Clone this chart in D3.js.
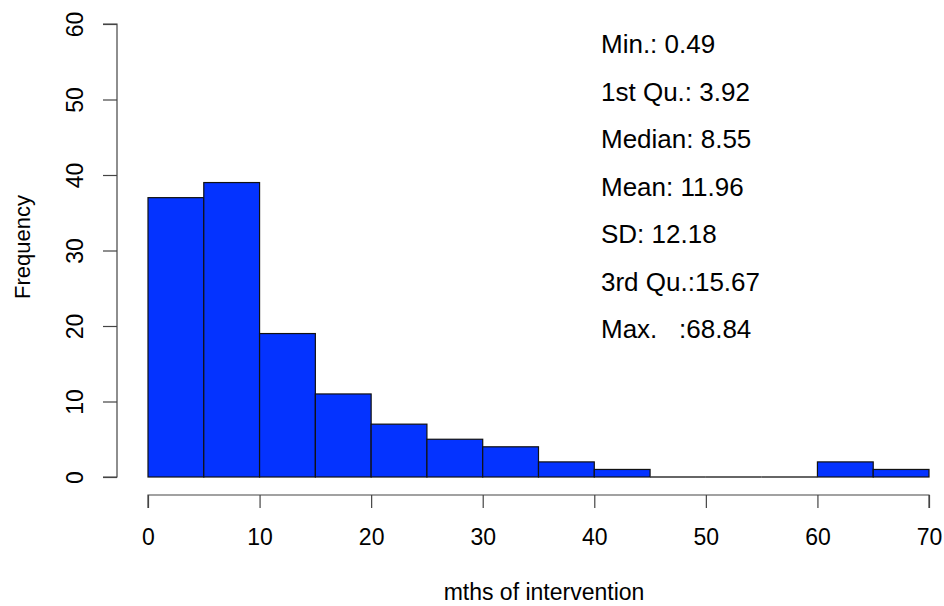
<!DOCTYPE html>
<html>
<head>
<meta charset="utf-8">
<script src="https://cdn.jsdelivr.net/npm/d3@7"></script>
<style>
  html, body { margin: 0; padding: 0; background: #fff; }
  svg { display: block; }
  text { font-family: "Liberation Sans", Arial, Helvetica, sans-serif; fill: #000; }
</style>
</head>
<body>
<svg id="chart" width="944" height="606"></svg>
<script>
// Histogram bins (5-month width) and counts
const binStarts = [0, 5, 10, 15, 20, 25, 30, 35, 40, 45, 50, 55, 60, 65];
const binWidth = 5;
const counts = [37, 39, 19, 11, 7, 5, 4, 2, 1, 0, 0, 0, 2, 1];

const xTicks = [0, 10, 20, 30, 40, 50, 60, 70];
const yTicks = [0, 10, 20, 30, 40, 50, 60];

const statLines = [
  "Min.: 0.49",
  "1st Qu.: 3.92",
  "Median: 8.55",
  "Mean: 11.96",
  "SD: 12.18",
  "3rd Qu.:15.67",
  "Max.   :68.84"
];

const svg = d3.select("#chart");

const x = d3.scaleLinear().domain([0, 70]).range([148, 929]);
const y = d3.scaleLinear().domain([0, 60]).range([477, 24]);

const bins = binStarts.map((s, i) => ({ s, c: counts[i] }));

// Bars
svg.append("g")
  .selectAll("rect")
  .data(bins.filter(d => d.c > 0))
  .join("rect")
  .attr("x", d => x(d.s))
  .attr("width", d => x(d.s + binWidth) - x(d.s))
  .attr("y", d => y(d.c))
  .attr("height", d => y(0) - y(d.c))
  .attr("fill", "#0433ff")
  .attr("stroke", "#111")
  .attr("stroke-width", 1.2);

// Empty bins still show as a flat outline on the baseline
svg.append("g")
  .selectAll("line")
  .data(bins.filter(d => d.c === 0))
  .join("line")
  .attr("x1", d => x(d.s))
  .attr("x2", d => x(d.s + binWidth))
  .attr("y1", y(0))
  .attr("y2", y(0))
  .attr("stroke", "#333")
  .attr("stroke-width", 1.4);

// X axis (offset below the plot)
const xAxis = svg.append("g")
  .attr("transform", "translate(0,495)")
  .call(d3.axisBottom(x).tickValues(xTicks).tickSize(13).tickPadding(6).tickFormat(d3.format("d")));
xAxis.select(".domain").attr("stroke", "#444").attr("stroke-width", 1.2)
  .attr("d", `M${x(0)},13V0H${x(70)}V13`);
xAxis.selectAll(".tick line").attr("stroke", "#444").attr("stroke-width", 1.2);
xAxis.selectAll(".tick text")
  .style("font-size", "23px")
  .attr("fill", "#000")
  .attr("dy", null)
  .attr("y", 50);

// Y axis with rotated labels
const yAxis = svg.append("g")
  .attr("transform", "translate(117,0)")
  .call(d3.axisLeft(y).tickValues(yTicks).tickSize(14).tickFormat(d3.format("d")));
yAxis.select(".domain").attr("stroke", "#444").attr("stroke-width", 1.2)
  .attr("d", `M-14,${y(60)}H0V${y(0)}H-14`);
yAxis.selectAll(".tick line").attr("stroke", "#444").attr("stroke-width", 1.2);
yAxis.selectAll(".tick text")
  .style("font-size", "23px")
  .attr("fill", "#000")
  .attr("x", null)
  .attr("dy", null)
  .attr("y", null)
  .attr("text-anchor", "middle")
  .attr("transform", "translate(-34,0) rotate(-90)");

// Axis titles
svg.append("text")
  .attr("x", 544).attr("y", 600)
  .attr("text-anchor", "middle")
  .style("font-size", "23px")
  .text("mths of intervention");

svg.append("text")
  .attr("transform", "translate(30,247) rotate(-90)")
  .attr("text-anchor", "middle")
  .style("font-size", "22px")
  .text("Frequency");

// Summary statistics
svg.append("g")
  .selectAll("text")
  .data(statLines)
  .join("text")
  .attr("x", 601)
  .attr("y", (d, i) => 53 + i * 47.5)
  .style("font-size", "26px")
  .style("white-space", "pre")
  .attr("xml:space", "preserve")
  .text(d => d);
</script>
</body>
</html>
